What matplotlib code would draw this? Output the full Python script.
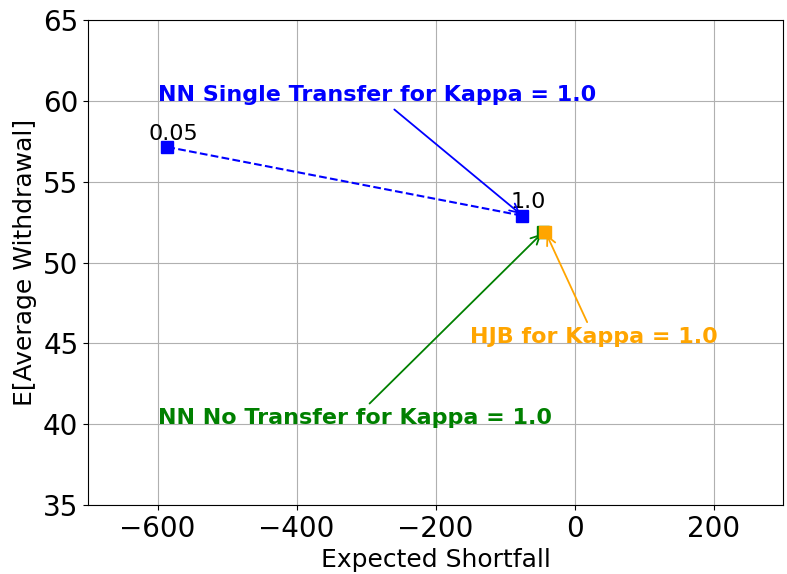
import numpy as np
from matplotlib import pyplot as plt

# data
kappa_labels = ['0.05', '1.0']
nn_single_es = [-586, -75]
nn_single_ew = [57.15, 52.9]
nn_no_es = [-45]
nn_no_ew = [51.9]
hjb_es = [-42]
hjb_ew = [51.9]

fig, ax = plt.subplots(figsize=(7.87, 5.74), dpi=100)

ax.plot(nn_single_es, nn_single_ew, 's--', color='blue', markersize=9, zorder=3)
ax.plot(nn_no_es, nn_no_ew, 's', color='green', markersize=9, zorder=3)
ax.plot(hjb_es, hjb_ew, 's', color='orange', markersize=9, zorder=4)

for lab, xx, yy in zip(kappa_labels, nn_single_es, nn_single_ew):
    ax.text(xx + 8, yy + 0.2, lab, fontsize=16, ha='center', va='bottom')

ax.annotate('NN Single Transfer for Kappa = 1.0', xy=(nn_single_es[1], nn_single_ew[1]),
            xytext=(-600, 60), color='blue', fontsize=16, fontweight='bold',
            arrowprops=dict(arrowstyle='->', color='blue', lw=1.3))
ax.annotate('HJB for Kappa = 1.0', xy=(hjb_es[0], hjb_ew[0]),
            xytext=(-150, 45), color='orange', fontsize=16, fontweight='bold',
            arrowprops=dict(arrowstyle='->', color='orange', lw=1.3))
ax.annotate('NN No Transfer for Kappa = 1.0', xy=(nn_no_es[0], nn_no_ew[0]),
            xytext=(-600, 40), color='green', fontsize=16, fontweight='bold',
            arrowprops=dict(arrowstyle='->', color='green', lw=1.3))

ax.set_xlim(-700, 300)
ax.set_ylim(35, 65)
ax.set_xticks([-600, -400, -200, 0, 200])
ax.set_yticks(np.arange(35, 66, 5))
ax.tick_params(labelsize=20)
ax.set_xlabel('Expected Shortfall', fontsize=18)
ax.set_ylabel('E[Average Withdrawal]', fontsize=18)
ax.grid(True)

plt.subplots_adjust(left=0.112, right=0.995, top=0.965, bottom=0.12)
plt.savefig('out.png', dpi=100)
